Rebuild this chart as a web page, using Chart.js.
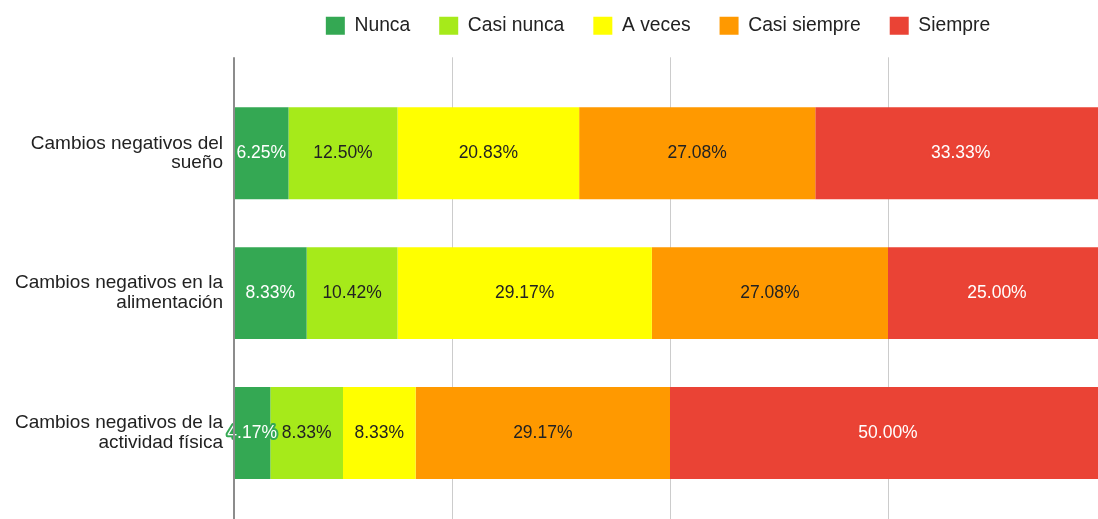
<!DOCTYPE html>
<html>
<head>
<meta charset="utf-8">
<script src="https://cdn.jsdelivr.net/npm/chart.js@4.4.1/dist/chart.umd.min.js"></script>
<style>
html, body { margin: 0; padding: 0; background: #fff; overflow: hidden; }
canvas { display: block; }
</style>
</head>
<body>
<canvas id="barChart" width="1120" height="519"></canvas>
<script>
// categorias y porcentajes de respuesta
var categorias = [
    ['Cambios negativos del', 'sueño'],
    ['Cambios negativos en la', 'alimentación'],
    ['Cambios negativos de la', 'actividad física']
];
var respuestas = ['Nunca', 'Casi nunca', 'A veces', 'Casi siempre', 'Siempre'];
var nunca = [6.25, 8.33, 4.17];
var casiNunca = [12.50, 10.42, 8.33];
var aVeces = [20.83, 29.17, 8.33];
var casiSiempre = [27.08, 27.08, 29.17];
var siempre = [33.33, 25.00, 50.00];
var gridTicks = [25, 50, 75, 100];

var colores = ['#34a853', '#a6ea1a', '#ffff00', '#ff9900', '#ea4335'];
var coloresTexto = ['#ffffff', '#222222', '#222222', '#222222', '#ffffff'];
var series = [nunca, casiNunca, aVeces, casiSiempre, siempre];
var fuente = "'Liberation Sans', Arial, sans-serif";

// lineas de guia + etiquetas de valor
var extras = {
    id: 'extras',
    beforeDatasetsDraw: function (chart) {
        var ctx = chart.ctx, x = chart.scales.x;
        var top = chart.chartArea.top - 26;
        ctx.save();
        ctx.strokeStyle = '#cccccc';
        ctx.lineWidth = 1;
        gridTicks.forEach(function (t) {
            var px = Math.round(x.getPixelForValue(t)) + 0.5;
            ctx.beginPath();
            ctx.moveTo(px, top);
            ctx.lineTo(px, chart.height);
            ctx.stroke();
        });
        ctx.restore();
    },
    afterDatasetsDraw: function (chart) {
        var ctx = chart.ctx, x = chart.scales.x;
        var top = chart.chartArea.top - 26;
        ctx.save();
        ctx.font = '17.5px ' + fuente;
        ctx.textAlign = 'center';
        ctx.textBaseline = 'middle';
        ctx.lineJoin = 'round';
        chart.data.datasets.forEach(function (ds, i) {
            var meta = chart.getDatasetMeta(i);
            meta.data.forEach(function (bar, j) {
                var txt = ds.data[j].toFixed(2) + '%';
                var cx = (bar.x + bar.base) / 2;
                ctx.strokeStyle = colores[i];
                ctx.lineWidth = 4;
                ctx.strokeText(txt, cx, bar.y);
                ctx.fillStyle = coloresTexto[i];
                ctx.fillText(txt, cx, bar.y);
            });
        });
        // eje base
        var bx = x.getPixelForValue(0);
        ctx.strokeStyle = '#8c8c8c';
        ctx.lineWidth = 2;
        ctx.beginPath();
        ctx.moveTo(bx, top);
        ctx.lineTo(bx, chart.height);
        ctx.stroke();
        ctx.restore();
    }
};

// la leyenda va centrada sobre el area del grafico
var moverLeyenda = {
    id: 'moverLeyenda',
    afterLayout: function (chart) {
        var l = chart.legend;
        var dx = 105, dy = -38;
        l.left += dx; l.right += dx;
        l.top += dy; l.bottom += dy;
    }
};

var datasets = series.map(function (s, i) {
    return {
        label: respuestas[i],
        data: s,
        backgroundColor: colores[i],
        borderWidth: 0,
        barPercentage: 0.657,
        categoryPercentage: 1
    };
});

var ctx = document.getElementById('barChart').getContext('2d');
var chart = new Chart(ctx, {
    type: 'bar',
    data: {
        labels: categorias,
        datasets: datasets
    },
    options: {
        indexAxis: 'y',
        responsive: false,
        animation: false,
        layout: {
            padding: { top: 25, right: 14, bottom: 16, left: 0 }
        },
        scales: {
            x: {
                type: 'linear',
                stacked: true,
                min: 0,
                max: 100,
                display: false
            },
            y: {
                stacked: true,
                grid: { display: false },
                border: { display: false },
                ticks: {
                    color: '#222222',
                    padding: 3,
                    font: { family: fuente, size: 19, lineHeight: 1.05 }
                },
                afterFit: function (scale) {
                    scale.width = 234;
                    scale.paddingTop = 0;
                    scale.paddingBottom = 0;
                }
            }
        },
        plugins: {
            legend: {
                position: 'top',
                labels: {
                    boxWidth: 19,
                    boxHeight: 18,
                    padding: 29,
                    color: '#222222',
                    font: { family: fuente, size: 19.3 }
                }
            },
            tooltip: { enabled: false }
        }
    },
    plugins: [extras, moverLeyenda]
});
</script>
</body>
</html>
